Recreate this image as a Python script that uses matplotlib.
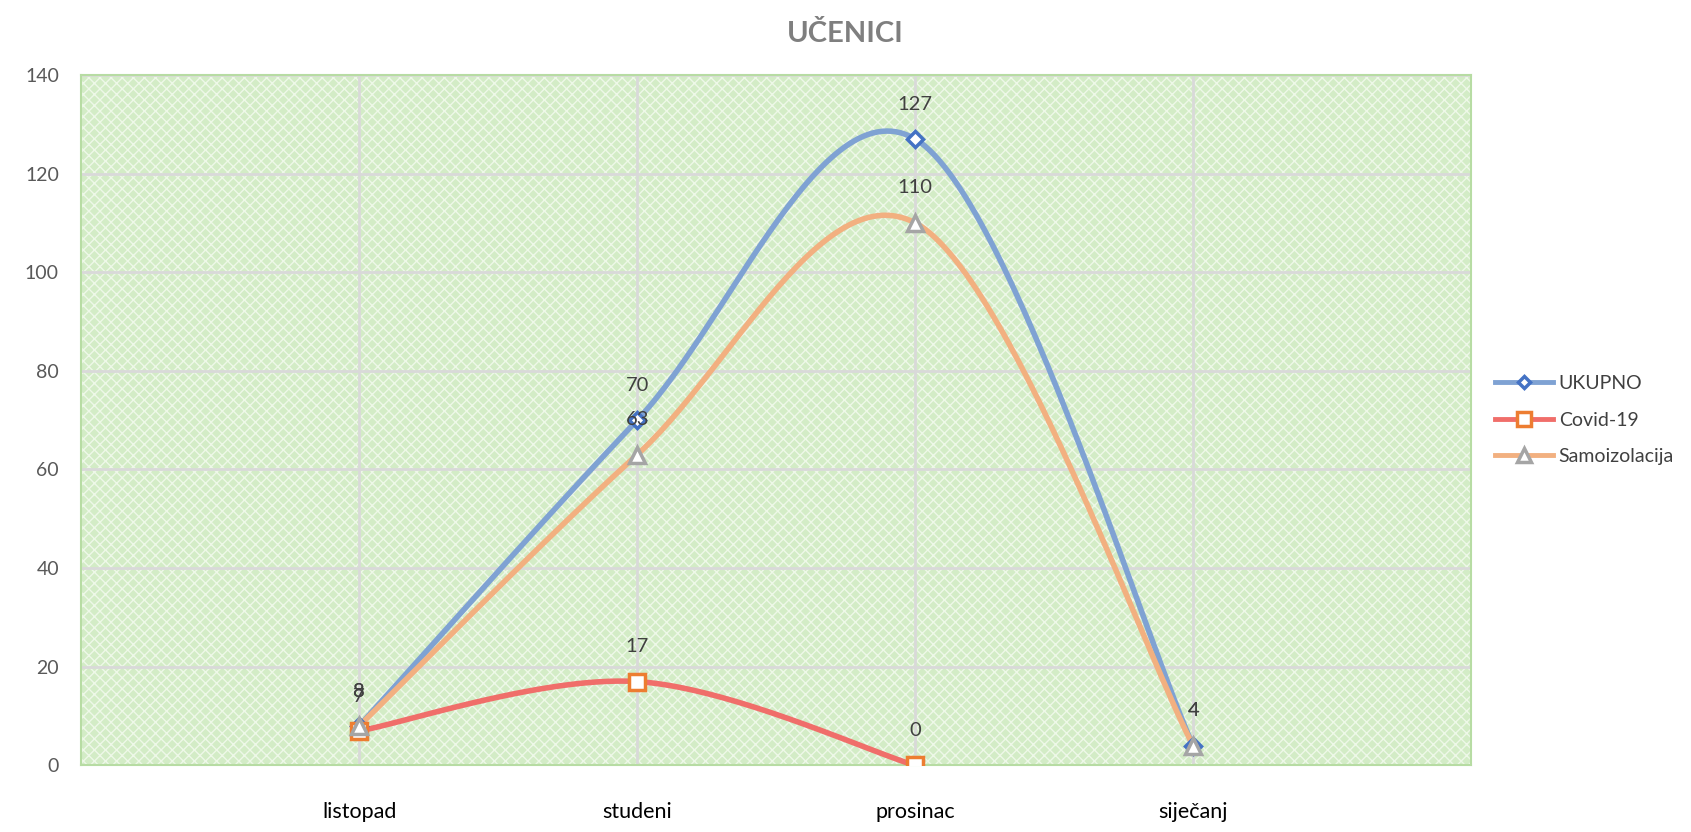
import matplotlib
matplotlib.use("Agg")
import matplotlib.pyplot as plt
import numpy as np
from matplotlib.patches import Rectangle

plt.rcParams['font.family'] = ['Lato', 'DejaVu Sans']

months = ["listopad", "studeni", "prosinac", "siječanj"]
ukupno = [8, 70, 127, 4]
covid = [7, 17, 0, np.nan]
samo = [8, 63, 110, 4]


def smooth(xs, ys, n=60):
    # Excel-like smoothed line: Catmull-Rom as cubic bezier, tension 1/6
    pts = [(x, y) for x, y in zip(xs, ys) if not np.isnan(y)]
    pts = np.array(pts, dtype=float)
    out = []
    for i in range(len(pts) - 1):
        p0 = pts[i - 1] if i > 0 else pts[i]
        p1 = pts[i]
        p2 = pts[i + 1]
        p3 = pts[i + 2] if i + 2 < len(pts) else pts[i + 1]
        c1 = p1 + (p2 - p0) / 6
        c2 = p2 - (p3 - p1) / 6
        t = np.linspace(0, 1, n)[:, None]
        b = (1 - t) ** 3 * p1 + 3 * (1 - t) ** 2 * t * c1 + 3 * (1 - t) * t ** 2 * c2 + t ** 3 * p2
        out.append(b)
    b = np.vstack(out)
    return b[:, 0], b[:, 1]


fig = plt.figure(figsize=(16.91, 8.32), dpi=100)
ax = fig.add_axes([0.048, 0.080, 0.822, 0.830])

x = np.arange(1, len(months) + 1)
ax.set_xlim(0, len(months) + 1)
ax.set_ylim(0, 140)

ax.set_facecolor('#d3ecc6')
ax.add_patch(Rectangle((0, 0), 1, 1, transform=ax.transAxes, facecolor='none',
                       edgecolor='#eef8e8', hatch='xxx', linewidth=0, zorder=0))
for s in ax.spines.values():
    s.set_color('#b7dca3')
    s.set_linewidth(1.5)

ax.set_yticks(np.arange(0, 141, 20))
ax.set_xticks(x)
ax.set_xticklabels(months)
ax.grid(True, color='#d9d9d9', linewidth=2, zorder=1)
ax.set_axisbelow(True)
ax.tick_params(length=0)
ax.tick_params(axis='x', labelsize=15.5, colors='black', pad=26)
ax.tick_params(axis='y', labelsize=14, colors='#595959', pad=16)

series = [
    ("UKUPNO", ukupno, '#7fa2d3', '#4472c4', 'D', 8),
    ("Covid-19", covid, '#f06e6a', '#ed7d31', 's', 12),
    ("Samoizolacija", samo, '#f2b080', '#a5a5a5', '^', 12),
]

handles = []
for name, vals, lc, mc, mk, ms in series:
    sx, sy = smooth(x, np.array(vals, dtype=float))
    ax.plot(sx, sy, color=lc, linewidth=4, zorder=3, solid_capstyle='round')
    ax.plot(x, vals, linestyle='none', marker=mk, markersize=ms, markerfacecolor='white',
            markeredgecolor=mc, markeredgewidth=2.5, zorder=4)
    for xi, v in zip(x, vals):
        if np.isnan(v):
            continue
        ax.annotate(f"{v:g}", (xi, v), xytext=(0, 19), textcoords='offset points',
                    ha='center', va='bottom', fontsize=14.5, color='#404040', zorder=5)
    h, = ax.plot([], [], color=lc, linewidth=3.5, marker=mk, markersize=ms * 0.8,
                 markerfacecolor='white', markeredgecolor=mc, markeredgewidth=2.5)
    handles.append((h, name))

ax.legend([h for h, _ in handles], [n for _, n in handles], loc='center left',
          bbox_to_anchor=(1.0, 0.5), frameon=False, fontsize=14, handlelength=3.0,
          labelcolor='#404040', labelspacing=1.0, handletextpad=0.3, borderaxespad=0.8)

fig.suptitle("UČENICI", y=0.975, fontsize=21, fontweight='bold', color='#7f7f7f')

fig.savefig("out.png", dpi=100)
